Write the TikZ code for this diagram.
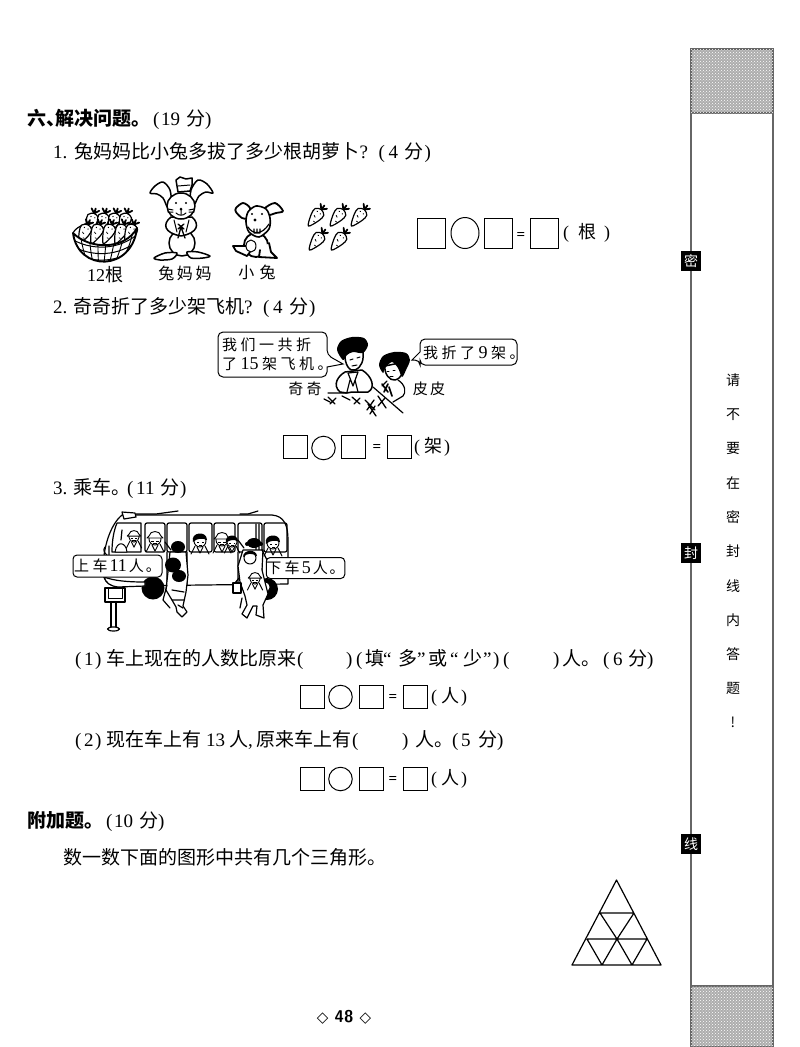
\documentclass[tikz,border=0pt]{standalone}
\usepackage{fontspec}
\usetikzlibrary{patterns,shapes.geometric}
\setmainfont{Liberation Serif}
\newfontfamily\cjk{Noto Sans CJK SC}
\newfontfamily\symb{DejaVu Sans}
\newcommand{\zh}[1]{{\cjk #1}}
\newcommand{\lbox}[2]{\makebox[#1pt][l]{#2}}
\newcommand{\zbox}[2]{\makebox[#1pt][l]{\cjk #2}}
\newcommand{\gp}{\hspace{3.5pt}}
\tikzset{
  txt/.style={anchor=west,inner sep=0pt,font=\fontsize{19}{20}\selectfont},
  sectxt/.style={txt,font=\fontsize{19}{20}\selectfont\bfseries},
  lab/.style={inner sep=0pt,font=\cjk\fontsize{15}{18}\selectfont},
  eqbox/.style={draw,line width=1pt,inner sep=0pt,minimum width=24pt,minimum height=23pt},
  eqcirc/.style={draw,line width=1pt,circle,inner sep=0pt,minimum size=23.5pt},
  eqsign/.style={inner sep=0pt,font=\fontsize{15}{15}\selectfont\bfseries},
  unit/.style={txt,font=\fontsize{18}{20}\selectfont},
  bandline/.style={draw=black!60,line width=1.4pt},
  band/.style={bandline,fill=black!32,postaction={pattern=crosshatch dots,pattern color=white}},
  tag/.style={fill=black,text=white,inner sep=0pt,minimum size=20pt,font=\cjk\fontsize{14}{14}\selectfont},
  bubble/.style={draw,fill=white,line width=1pt,rounded corners=5pt},
  ink/.style={line width=1pt,line join=round,line cap=round},
  heavy/.style={ink,line width=1.5pt},
  carrot/.pic={
    \draw[ink,fill=white,line width=1.2pt] plot[smooth cycle] coordinates {(0,14) (-5,3) (-5.5,-4) (0,-7) (5.5,-4) (5,3)};
    \draw[ink,line width=.7pt] (-2,2) -- (0,3) (1,7) -- (2.5,7);
    \fill (-2,-3) circle (.7pt) (2,-3) circle (.7pt);
    \draw[ink,line width=1.8pt] (0,-7) -- (-4,-11) (0,-8) -- (0,-12) (0,-7) -- (4,-11);
  },
  head/.pic={
    \draw[ink,fill=white,line width=.9pt] (0,0) circle (6pt);
    \fill (-7,1) .. controls (-10,-9) and (7,-11) .. (7,-1) .. controls (3,-3) and (-3,-3) .. (-7,1);
    \draw[line width=.7pt] (-3,1) -- (-1,1) (2,1) -- (4,1) (-1,4) -- (2,4);
    \draw[ink,line width=.9pt] (-5,5) -- (-9,13) (5,5) -- (9,13) (-3,6) -- (0,12) -- (3,6);
  },
  hathead/.pic={
    \draw[ink,fill=white,line width=.9pt] (0,0) circle (6pt);
    \draw[ink,fill=white,line width=.9pt] (-8,-1) -- (8,-1) -- (6,-3) .. controls (5,-9) and (-5,-9) .. (-6,-3) -- cycle;
    \draw[line width=.8pt] (-4,2) -- (-1,2) (1,2) -- (4,2) (-2,4.5) -- (2,4.5);
    \draw[ink,line width=.9pt] (-5,5) -- (-9,13) (5,5) -- (9,13) (-3,6) -- (0,12) -- (3,6);
  },
}
\begin{document}
\begin{tikzpicture}[x=1pt,y=-1pt]
\useasboundingbox (0,0) rectangle (800,1047);
% side band
\draw[bandline] (691,113) -- (691,986) (773,113) -- (773,986);
\draw[band] (691,49) rectangle (773,113);
\draw[band] (691,986) rectangle (773,1047);
\node[tag] (tagmi) at (691,261) {密};
\node[tag] (tagfeng) at (691,553) {封};
\node[tag] (tagxian) at (691,844) {线};
\foreach \ch [count=\i from 0] in {请,不,要,在,密,封,线,内,答,题,!}
  \node[lab,font=\cjk\fontsize{14}{14}\selectfont] (warn\i) at (733,{380.5+34.2*\i}) {\ch};
% headings and questions
\node[sectxt] (sec) at (27,119) {\zbox{19}{六}\zbox{9}{、}\zbox{76}{解决问题}\zbox{22}{。}\mdseries\lbox{8}{(}\lbox{25}{19}\zbox{19}{分})};
\node[txt] (qa) at (53,153) {\lbox{21.5}{1.}\zbox{285}{兔妈妈比小兔多拔了多少根胡萝卜}\lbox{19}{?}\lbox{10}{(}\lbox{16}{4}\zbox{20}{分})};
\node[txt] (qb) at (53,308) {\lbox{20}{2.}\zbox{171}{奇奇折了多少架飞机}\lbox{19}{?}\lbox{10}{(}\lbox{16}{4}\zbox{20}{分})};
\node[txt] (qc) at (53,488) {\lbox{20}{3.}\zbox{38}{乘车}\zbox{16}{。}\lbox{9}{(}\lbox{24}{11}\zbox{20}{分})};
\node[txt] (qca) at (75,659) {\lbox{9}{(}\lbox{11}{1}\lbox{11}{)}\zbox{191}{车上现在的人数比原来}\lbox{49}{(}\lbox{10}{)}\lbox{9}{(}\zbox{18}{填}\lbox{15}{“}\zbox{19}{多}\lbox{11}{”}\zbox{22}{或}\lbox{13}{“}\zbox{20}{少}\lbox{10}{”}\lbox{10}{)}\lbox{50}{(}\lbox{9}{)}\zbox{19}{人}\zbox{22}{。}\lbox{10}{(}\lbox{15}{6}\zbox{19}{分})};
\node[txt] (qcb) at (75,740) {\lbox{9}{(}\lbox{11}{2}\lbox{11}{)}\zbox{100}{现在车上有}\lbox{23}{13}\zbox{19}{人}\lbox{8}{,}\zbox{96}{原来车上有}\lbox{50}{(}\lbox{13}{)}\zbox{19}{人}\zbox{18}{。}\lbox{9}{(}\lbox{17}{5}\zbox{19}{分})};
\node[sectxt] (secb) at (27,821) {\zbox{57}{附加题}\zbox{22}{。}\mdseries\lbox{8}{(}\lbox{25}{10}\zbox{19}{分})};
\node[txt] (qd) at (63,857) {\zh{数一数下面的图形中共有几个三角形。}};
\node[inner sep=0pt,font=\fontsize{17}{18}\selectfont\sffamily\bfseries] (page) at (344,1017) {{\symb\fontsize{15}{15}\selectfont ◇} 48 {\symb\fontsize{15}{15}\selectfont ◇}};
% answer rows
\node[eqbox,minimum width=28pt,minimum height=30pt] (aa) at (431,233) {};
\node[draw,line width=1pt,inner sep=0pt,ellipse,minimum width=28pt,minimum height=31pt] (ao) at (465,233) {};
\node[eqbox,minimum width=28pt,minimum height=30pt] (ab) at (498,233) {};
\node[eqsign] (aeq) at (521,236) {=};
\node[eqbox,minimum width=28pt,minimum height=30pt] (ac) at (544,233) {};
\node[unit] (aunit) at (563,233) {\lbox{15}{(}\zbox{26}{根})};
\node[eqbox] (ba) at (295,447) {};
\node[eqcirc] (bo) at (323.5,448) {};
\node[eqbox] (bb) at (353.5,447) {};
\node[eqsign] (beq) at (377,448) {=};
\node[eqbox] (bc) at (399,447) {};
\node[unit] (bunit) at (414,447) {\lbox{10}{(}\zbox{20}{架})};
\foreach \ry/\n in {697/c,779/d}{
  \node[eqbox] (\n a) at (312,\ry) {};
  \node[eqcirc] (\n o) at (340.5,\ry) {};
  \node[eqbox] (\n b) at (371,\ry) {};
  \node[eqsign] (\n eq) at (393,\ry+1) {=};
  \node[eqbox] (\n c) at (415.5,\ry) {};
  \node[unit] (\n unit) at (431,\ry) {\lbox{10}{(}\zbox{20}{人})};
}
% basket
\draw[ink,line width=1.2pt] (73,233) .. controls (80,218) and (130,215) .. (137,228);
\foreach \px in {92,103,114,125}
  \pic[rotate=-18] at (\px,220) {carrot};
\foreach \px in {85,97,109,121,131}
  \pic[rotate=-24] at (\px,231) {carrot};
\fill[white] (73,233) .. controls (78,272) and (132,272) .. (137,228) .. controls (125,250) and (90,250) .. (73,233);
\begin{scope}
\clip (73,233) .. controls (78,272) and (132,272) .. (137,228) .. controls (125,250) and (90,250) .. (73,233);
\foreach \k in {0,...,8}
  \draw[ink,line width=.9pt] (70+\k*9,226) .. controls (73+\k*8.5,245) and (78+\k*6.5,255) .. (84+\k*5,268);
\foreach \k in {0,...,3}
  \draw[ink,line width=1pt] (70,238+\k*6.5) .. controls (90,251+\k*6.5) and (120,251+\k*6.5) .. (140,232+\k*6.5);
\end{scope}
\draw[ink,line width=1.9pt] (73,233) .. controls (78,272) and (132,272) .. (137,228) .. controls (125,250) and (90,250) .. (73,233);
\node[lab] (laba) at (105,275) {\fontsize{18}{18}\selectfont\rmfamily 12\zh{根}};
% mother rabbit
\draw[heavy,fill=white] plot[smooth] coordinates {(172,206) (170,190) (163,182) (155,186) (150,193) (157,194) (163,198) (167,207)};
\draw[heavy,fill=white] plot[smooth] coordinates {(190,204) (191,190) (198,180) (207,184) (213,193) (206,192) (199,196) (195,204)};
\draw[heavy,fill=white] (176,180) -- (180,177) -- (186,179) -- (192,178) -- (192,185) -- (190,191) -- (178,192) -- (177,186) -- cycle;
\draw[ink] (178,186) -- (190,185);
\draw[heavy,fill=white] (182,243) ellipse (13pt and 13pt);
\draw[heavy,fill=white] plot[smooth cycle] coordinates {(177,253) (165,253) (154,258) (160,260) (172,259)};
\draw[heavy,fill=white] plot[smooth cycle] coordinates {(187,252) (198,252) (210,256) (203,258) (191,258)};
\draw[heavy,fill=white] (171,217) .. controls (162,224) and (164,233) .. (181,236) .. controls (198,233) and (200,224) .. (192,217) -- cycle;
\draw[ink] (174,220) -- (177,232) (189,220) -- (186,232);
\draw[heavy,fill=white] (181,206) ellipse (14pt and 13pt);
\fill (176,203) circle (1.2pt) (186,203) circle (1.2pt) (181,209) circle (1.5pt);
\draw[ink] (176,213) .. controls (179,216) and (183,216) .. (186,213) (181,209) -- (181,214)
  (168,209) -- (173,210) (168,212) -- (173,212) (189,210) -- (194,209) (189,212) -- (194,212);
\draw[ink,line width=1.3pt] (178,224) -- (184,229) (184,224) -- (178,229) (181,227) -- (178,238) (181,227) -- (185,238);
\node[lab,font=\cjk\fontsize{16}{18}\selectfont] (labb) at (185,273) {兔\,妈\,妈};
% small rabbit
\draw[heavy,line width=1.8pt,fill=white] plot[smooth cycle] coordinates {(250,208) (243,203) (236,208) (236,212) (242,218) (248,218)};
\draw[heavy,line width=1.8pt,fill=white] plot[smooth cycle] coordinates {(264,209) (275,203) (283,211) (276,213) (268,215)};
\draw[heavy,line width=1.8pt,fill=white] (256,245) ellipse (12pt and 12pt);
\draw[heavy,line width=1.8pt,fill=white] (247,246) -- (233,246) -- (236,251) -- (247,256) -- (250,252);
\draw[heavy,line width=1.8pt,fill=white] (260,250) -- (259,257) -- (277,258) -- (271,252) -- (269,243);
\draw[ink,fill=white] (251,246) ellipse (5pt and 6pt);
\draw[heavy,line width=1.6pt,fill=white] plot[smooth cycle] coordinates {(256,206) (266,209) (270,218) (269,229) (259,237) (249,232) (246,222) (248,212)};
\fill (252,214) circle (1.2pt) (262,214) circle (1.2pt) (255,220) circle (1.6pt);
\draw[ink,line width=1.2pt] (248,227) .. controls (253,235) and (262,235) .. (269,224) (254,229) -- (254,233) -- (260,233) -- (260,229) (257,229) -- (257,233);
\node[lab,font=\cjk\fontsize{16}{18}\selectfont] (labc) at (257,272) {小\,\,兔};
% loose carrots
\foreach \px in {317,339,360}
  \pic[rotate=-38] at (\px,215) {carrot};
\foreach \px in {318,340}
  \pic[rotate=-38] at (\px,239) {carrot};
% two children
\draw[heavy,fill=white] (345,372) .. controls (338,376) and (332,385) .. (340,392) -- (347,393) -- (352,392) -- (368,392) .. controls (376,388) and (372,376) .. (362,370) -- cycle;
\draw[ink,line width=1.2pt] (328,393) -- (347,393) (348,373) -- (358,372) -- (353,386) -- cycle (350,380) -- (347,392) (355,380) -- (358,392);
\draw[heavy,fill=white] (345,352) .. controls (344,365) and (350,372) .. (355,370) .. controls (362,367) and (364,360) .. (363,350) -- cycle;
\fill plot[smooth cycle] coordinates {(337,350) (341,341) (352,337) (364,338) (368,345) (363,353) (353,352) (347,355) (343,360)};
\draw[ink] (350,360) -- (353,359) (357,358) -- (360,357) (352,366) -- (357,365);
\draw[ink,line width=1.2pt,fill=white] (373,387) -- (403,413) (387,381) -- (382,386) (398,380) .. controls (406,385) and (406,393) .. (403,396) -- (393,402);
\draw[heavy,fill=white] (385,366) .. controls (384,374) and (390,381) .. (395,380) .. controls (402,378) and (404,372) .. (404,362) -- cycle;
\fill plot[smooth cycle] coordinates {(379,365) (383,356) (394,352) (406,353) (410,360) (406,370) (402,377) (398,368) (392,362) (385,368) (383,373)};
\draw[ink] (387,371) -- (389,371) (393,370) -- (395,370) (390,376) -- (393,376);
\draw[ink,line width=1.6pt] (382,384) -- (388,392) (388,384) -- (384,392) (389,387) -- (392,396);
\draw[ink,line width=1.3pt] (328,397) -- (335,404) (336,398) -- (330,404) (324,399) -- (330,402)
  (352,397) -- (360,404) (360,398) -- (354,404) (365,400) -- (375,410) (374,400) -- (367,410) (378,396) -- (386,408) (385,398) -- (378,406) (368,404) -- (376,416) (375,406) -- (370,414) (342,396) -- (350,400);
% speech bubbles
\draw[bubble] (218,332) -- (327,332) -- (327,355) [sharp corners] -- (343,364) -- (327,367) [rounded corners=5pt] -- (327,377) -- (218,377) -- cycle;
\node[lab,anchor=west] (saya) at (222,345) {我\gp 们\gp 一\gp 共\gp 折};
\node[lab,anchor=west] (sayb) at (222,364) {了\gp\rmfamily\fontsize{18}{18}\selectfont 15\gp\zh{\fontsize{15}{18}\selectfont 架\gp 飞\gp 机\gp 。}};
\draw[bubble] (420,339) -- (517,339) -- (517,365) -- (420,365) -- (420,360) [sharp corners] -- (412,360) -- (420,352) [rounded corners=5pt] -- cycle;
\node[lab,anchor=west] (sayc) at (423,353) {我\gp 折\gp 了\gp\rmfamily\fontsize{18}{18}\selectfont 9\gp\zh{\fontsize{15}{18}\selectfont 架\gp 。}};
\node[lab] (namea) at (305,389) {奇\gp 奇};
\node[lab] (nameb) at (429,389) {皮\,皮};
% bus
\draw[heavy,line width=1.2pt,fill=white] (122,515) -- (272,515) .. controls (284,516) and (288,525) .. (288,540) -- (288,584) -- (118,586) .. controls (106,586) and (103,578) .. (103,570) .. controls (103,548) and (110,525) .. (122,515) -- cycle;
\draw[ink,line width=1.2pt,fill=white] (122,512) -- (135,513) -- (136,517) -- (124,519) -- cycle;
\draw[ink,line width=1.2pt] (136,514) -- (156,514) -- (178,511) (240,514) -- (248,514) -- (258,511);
\draw[ink,line width=1.2pt] (117,523) -- (141,523) -- (141,552) -- (112,552) .. controls (112,540) and (114,530) .. (117,523);
\foreach \wa/\wb in {145/165,167/187,189/212,214/235,238/262,264/287}
  \draw[ink,line width=1.2pt,rounded corners=2pt] (\wa,523) -- (\wa,552) -- (\wb,552) -- (\wb,523) -- cycle;
\draw[ink,line width=1.2pt] (167,552) -- (167,585) (187,552) -- (187,585) (238,552) -- (238,585) (262,552) -- (262,585) (122,530) -- (121,540) (256,524) -- (256,552) (259,524) -- (259,552);
\pic[scale=.85] at (134,537) {hathead};
\pic at (155,539) {hathead};
\pic at (200,541) {head};
\pic at (222,540) {hathead};
\pic[scale=.85] at (232,542) {head};
\pic at (273,543) {head};
\draw[ink,fill=white] (115,552) .. controls (117,540) and (126,542) .. (127,552) -- cycle;
\draw[ink,line width=1.2pt] (105,547) .. controls (103,550) and (104,553) .. (107,555) (109,546) -- (109,555);
\fill (153,588) circle (11.5pt);
\fill (267,589) circle (11pt);
\fill[white] (265,587) circle (4.5pt);
\draw[ink,line width=1.2pt,fill=white] (104,577) .. controls (115,581) and (128,582) .. (145,582) -- (145,586) -- (118,587) .. controls (110,586) and (106,583) .. (104,577);
% people on the left door
\draw[heavy,line width=1.2pt,fill=white] (170,552) -- (168,572) -- (166,590) -- (172,600) -- (176,607) -- (177,612) -- (182,617) -- (187,612) -- (183,606) -- (186,592) -- (188,575) -- (186,552) -- cycle;
\draw[ink,line width=1.2pt] (171,550) -- (165,542) (167,585) -- (163,600) -- (170,608) (172,590) -- (184,592) (172,600) -- (184,600) (178,605) -- (183,608);
\fill (178,547) ellipse (7pt and 6pt);
\fill (173,565) ellipse (8pt and 7.5pt);
\fill (179,576) ellipse (7pt and 6pt);
% people on the right door
\draw[heavy,line width=1.2pt,fill=white] (243,550) -- (238,566) -- (240,582) -- (245,596) -- (247,605) -- (242,614) -- (247,618) -- (253,606) -- (257,606) -- (256,615) -- (264,618) -- (263,605) -- (268,594) -- (262,570) -- (263,550) -- cycle;
\draw[ink,line width=1.2pt,fill=white] (233,583) rectangle (241,593);
\draw[ink,line width=1.2pt] (244,548) -- (238,540) (239,578) -- (235,583) (242,598) -- (240,608) (262,550) -- (268,562);
\pic[scale=.85] at (255,579) {hathead};
\draw[ink,fill=white] (250,558) circle (6pt);
\fill (243,557) .. controls (243,549) and (257,549) .. (257,556) .. controls (252,553) and (247,553) .. (243,557);
\fill (254,543) ellipse (7pt and 5pt) (247,544) circle (2pt) (261,544) circle (2pt);
% labels on the bus
\node[bubble,rounded corners=4pt,minimum width=89pt,minimum height=22pt,inner sep=0pt,font=\cjk\fontsize{15}{16}\selectfont] (getin) at (117.5,566) {上\gp 车\rmfamily\fontsize{18}{18}\selectfont\hspace{2pt}11\hspace{2pt}\zh{\fontsize{15}{16}\selectfont 人\hspace{2pt}。}};
\node[bubble,rounded corners=4pt,minimum width=75pt,minimum height=21pt,inner sep=0pt,font=\cjk\fontsize{15}{16}\selectfont] (getout) at (305.5,568) {下\gp 车\rmfamily\fontsize{18}{18}\selectfont\hspace{2pt}5\hspace{2pt}\zh{\fontsize{15}{16}\selectfont 人\hspace{2pt}。}};
% bus stop
\draw[ink,line width=1.2pt,fill=white] (105,588) rectangle (125,602);
\draw[ink] (108,588) -- (108,598) -- (122,598) -- (122,588);
\draw[ink,line width=1.2pt] (111,602) -- (111,627) (116,602) -- (116,627);
\draw[ink,line width=1.2pt,fill=white] (113.5,629) ellipse (6pt and 2pt);
% triangles
\coordinate (apex) at (616.5,880);
\coordinate (la) at (600,913);
\coordinate (ra) at (634,913);
\coordinate (lb) at (587,939);
\coordinate (mb) at (617,939);
\coordinate (rb) at (647,939);
\coordinate (lc) at (572,965);
\coordinate (mc) at (602,965);
\coordinate (nc) at (632,965);
\coordinate (rc) at (661,965);
\draw[line width=1.2pt,line join=round] (apex) -- (lc) -- (rc) -- cycle (la) -- (ra) (lb) -- (rb) (lb) -- (mc) (rb) -- (nc) (mb) -- (mc) (mb) -- (nc) (mb) -- (la) (mb) -- (ra);
\end{tikzpicture}
\end{document}
